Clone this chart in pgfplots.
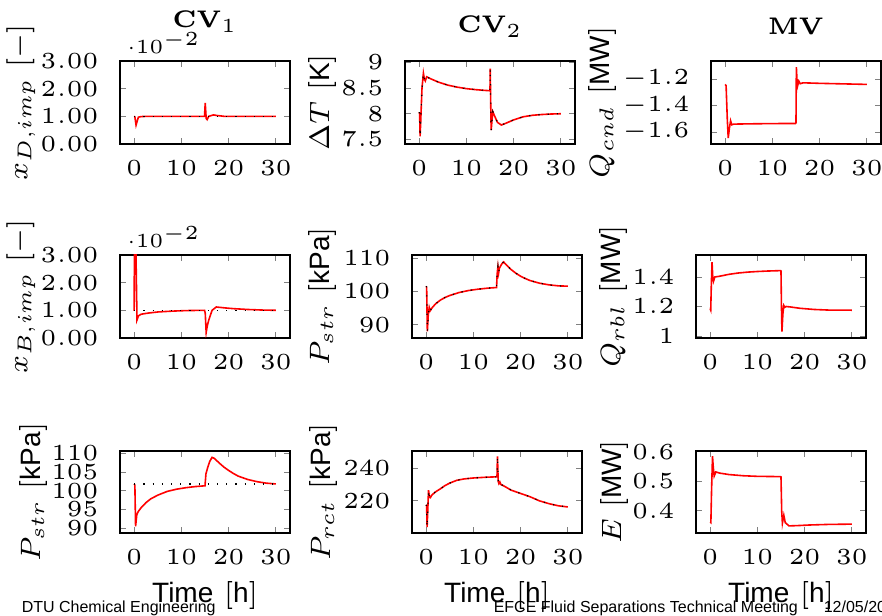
\documentclass[border=0pt]{standalone}
\usepackage[no-math]{fontspec}
\setsansfont{Liberation Sans}
\usepackage{pgfplots}
\usepackage{pgfplotstable}
\pgfplotsset{compat=1.18}

% --- simulated responses ---
\pgfplotstableread{
t y
0 0.0100
0.15 0.0098
0.4 0.0068
0.6 0.0080
0.9 0.0097
1.5 0.0099
3 0.0100
14.9 0.0100
15.05 0.0148
15.25 0.0092
15.45 0.0088
15.8 0.0100
16.8 0.0105
17.5 0.0103
19 0.0100
30 0.0100
}\xD

\pgfplotstableread{
t y
0 8.03
0.1 8.0
0.2 7.56
0.35 7.9
0.6 8.5
0.9 8.79
1.1 8.68
1.3 8.64
1.6 8.72
2.5 8.68
4 8.62
6 8.56
8 8.52
10 8.49
12 8.47
14 8.455
15 8.45
15.05 8.88
15.15 8.2
15.25 7.68
15.4 7.85
15.6 8.04
16.0 7.95
16.6 7.83
17.4 7.78
18.5 7.82
20 7.88
22 7.94
24 7.97
26 7.985
28 7.995
30 8.0
}\dT

\pgfplotstableread{
t y
0 -1.24
0.2 -1.25
0.45 -1.50
0.65 -1.645
0.9 -1.57
1.15 -1.515
1.4 -1.545
1.8 -1.54
5 -1.538
10 -1.536
14.9 -1.535
15 -1.53
15.08 -1.11
15.2 -1.20
15.35 -1.25
15.6 -1.215
15.9 -1.235
16.5 -1.228
20 -1.232
25 -1.236
30 -1.24
}\Qcnd

\pgfplotstableread{
t y
0 0.0098
0.08 0.045
0.25 0.045
0.6 0.0065
0.9 0.0080
1.5 0.0086
3 0.0090
5 0.0094
8 0.0097
11 0.0099
14.9 0.0100
15.05 0.0090
15.25 0.0020
15.5 0.0045
15.8 0.0065
16.5 0.0100
17.4 0.0112
19 0.0109
21 0.0106
24 0.0103
27 0.0101
30 0.0100
}\xB

\pgfplotstableread{
t y
0 101.6
0.1 101.3
0.25 88.0
0.45 93
0.65 95.2
0.85 94.2
1.2 95
2 96.3
3 97.4
4 98.2
5 98.8
7 99.7
9 100.3
11 100.7
13 101.0
14.9 101.2
15.05 105.5
15.2 107.5
15.35 105.6
15.5 107
16 108.3
16.4 108.9
17 108.0
18 106.6
19 105.5
20 104.6
21 103.9
22 103.3
24 102.5
26 102.0
28 101.7
30 101.6
}\Pstr

\pgfplotstableread{
t y
0 1.185
0.12 1.175
0.25 1.35
0.4 1.50
0.55 1.40
0.7 1.37
1.0 1.40
2 1.405
4 1.418
6 1.427
8 1.433
10 1.437
12 1.440
14.9 1.443
15.0 1.44
15.1 1.20
15.2 1.03
15.4 1.15
15.6 1.207
15.8 1.195
16.1 1.20
17 1.197
19 1.188
22 1.180
25 1.176
30 1.175
}\Qrbl

\pgfplotstableread{
t y
0 101.8
0.15 101.5
0.3 90.5
0.55 93.5
0.8 94.3
1.5 95.5
2.5 96.8
3.5 97.8
5 98.8
7 99.8
9 100.4
11 100.8
13 101.1
15 101.3
15.2 104.5
15.6 106.3
16.0 107.8
16.5 108.9
17 108.6
18 107.4
19 106.3
20 105.4
21 104.6
22 103.9
24 103.0
26 102.4
28 102.0
30 101.8
}\PstrB

\pgfplotstableread{
t y
0 217.6
0.1 217
0.2 204
0.35 215
0.5 226.5
0.7 222.5
0.9 222
1.2 223.5
2 225.5
3 227.3
4 229.3
5 230.8
6.5 232.5
8 233.3
10 233.9
13 234.4
15.0 234.6
15.1 247
15.25 232
15.4 230.5
15.6 231.5
15.8 230
16.5 229
18 226.5
20 224.5
22 222.5
24 220.0
26 218.3
28 217.0
30 216.3
}\Prct

\pgfplotstableread{
t y
0 0.362
0.15 0.36
0.3 0.47
0.5 0.585
0.65 0.55
0.85 0.518
1.2 0.532
2 0.528
4 0.523
7 0.519
10 0.517
14.9 0.516
15.0 0.515
15.15 0.40
15.3 0.358
15.6 0.385
15.9 0.36
16.7 0.349
18.5 0.350
21 0.352
25 0.354
30 0.355
}\Eprod

\pgfplotsset{
  dyn/.style={
    width=42.5pt, height=20.75pt, scale only axis,
    anchor=south west,
    xmin=-3, xmax=33, xtick={0,10,20,30},
    tick label style={font=\tiny, scale=1.15},
    yticklabel style={xshift=-1.2pt},
    label style={font=\scriptsize},
    major tick length=1.4pt,
    tick style={gray},
  },
  ttl/.style={every axis title/.style={font=\fontsize{6}{7}\selectfont,
      at={([yshift=#1]rel axis cs:0.5,1)}, anchor=base, inner sep=0pt}},
  ylab/.style={ylabel style={at={([xshift=-#1]rel axis cs:0,0.5)},
      anchor=south, inner sep=0pt}},
  tlab/.style={xlabel={\textsf{Time} [\textsf{h}]},
    xlabel style={at={([yshift=-17.5pt]rel axis cs:0.5,0)},
      anchor=base, inner sep=0pt}},
  sci/.style={
    scaled y ticks=base 10:2,
    yticklabel style={/pgf/number format/fixed,
      /pgf/number format/fixed zerofill,
      /pgf/number format/precision=2},
    every y tick scale label/.style={at={(rel axis cs:0,1)}, anchor=south west,
      inner sep=0pt, xshift=2.5pt, yshift=1.5pt, font=\tiny, scale=0.87},
  },
  sim/.style={red, line width=0.4pt},
  ref/.style={black, dotted, line width=0.3pt},
}

\begin{document}
\begin{tikzpicture}
\useasboundingbox (0,0) rectangle (220.5pt,154pt);

% slide footer
\begin{scope}[every node/.style={anchor=base west, inner sep=0pt,
    font=\sffamily\fontsize{4}{5}\selectfont}]
  \node at (5.25pt,0.75pt) {DTU Chemical Engineering};
  \node at (123.25pt,0.75pt) {EFCE Fluid Separations Technical Meeting};
  \node at (205.75pt,0.75pt) {12/05/201};
\end{scope}

% ---------- row 1 ----------
\begin{axis}[dyn, sci, at={(30pt,118pt)},
  title={$\mathbf{CV}_1$}, ttl=8.25pt,
  ymin=0, ymax=0.03, ytick={0,0.01,0.02,0.03},
  ylabel={$x_{D,imp}$ $[-]$}, ylab=21pt]
  \addplot[sim] table[x=t,y=y] {\xD};
  \addplot[ref] coordinates {(0,0.01) (30,0.01)};
\end{axis}

\begin{axis}[dyn, at={(101.25pt,118pt)},
  title={$\mathbf{CV}_2$}, ttl=7pt,
  ymin=7.41, ymax=9.03, ytick={7.5,8,8.5,9},
  ylabel={$\Delta T$ [\textsf{K}]}, ylab=17pt]
  \addplot[sim] table[x=t,y=y] {\dT};
  \addplot[ref] table[x=t,y=y] {\dT};
\end{axis}

\begin{axis}[dyn, at={(177.75pt,118pt)},
  title={$\mathbf{MV}$}, ttl=6.5pt,
  ymin=-1.69, ymax=-1.063, ytick={-1.6,-1.4,-1.2},
  ylabel={$Q_{cnd}$ [\textsf{MW}]}, ylab=23.5pt]
  \addplot[sim] table[x=t,y=y] {\Qcnd};
\end{axis}

% ---------- row 2 ----------
\begin{axis}[dyn, sci, at={(30pt,69.5pt)},
  ymin=0, ymax=0.03, ytick={0,0.01,0.02,0.03},
  ylabel={$x_{B,imp}$ $[-]$}, ylab=21pt]
  \addplot[sim] table[x=t,y=y] {\xB};
  \addplot[ref] coordinates {(0,0.01) (30,0.01)};
\end{axis}

\begin{axis}[dyn, at={(103pt,69.5pt)},
  ymin=86, ymax=111, ytick={90,100,110},
  ylabel={$P_{str}$ [\textsf{kPa}]}, ylab=18.75pt]
  \addplot[sim] table[x=t,y=y] {\Pstr};
  \addplot[ref] table[x=t,y=y] {\Pstr};
\end{axis}

\begin{axis}[dyn, at={(174pt,69.5pt)},
  ymin=0.987, ymax=1.549, ytick={1,1.2,1.4},
  ylabel={$Q_{rbl}$ [\textsf{MW}]}, ylab=17pt]
  \addplot[sim] table[x=t,y=y] {\Qrbl};
\end{axis}

% ---------- row 3 ----------
\begin{axis}[dyn, tlab, at={(30pt,20.75pt)}, height=20.5pt,
  ymin=88.7, ymax=110.6, ytick={90,95,100,105,110},
  ylabel={$P_{str}$ [\textsf{kPa}]}, ylab=18pt]
  \addplot[sim] table[x=t,y=y] {\PstrB};
  \addplot[ref] coordinates {(0,101.8) (30,101.8)};
\end{axis}

\begin{axis}[dyn, tlab, at={(103pt,20.75pt)}, height=20.5pt,
  ymin=200.5, ymax=250.3, ytick={220,240},
  ylabel={$P_{rct}$ [\textsf{kPa}]}, ylab=18.5pt]
  \addplot[sim] table[x=t,y=y] {\Prct};
  \addplot[ref] table[x=t,y=y] {\Prct};
\end{axis}

\begin{axis}[dyn, tlab, at={(174pt,20.75pt)}, height=20.5pt,
  ymin=0.325, ymax=0.603, ytick={0.4,0.5,0.6},
  ylabel={$E$ [\textsf{MW}]}, ylab=16.75pt]
  \addplot[sim] table[x=t,y=y] {\Eprod};
\end{axis}
\end{tikzpicture}
\end{document}
